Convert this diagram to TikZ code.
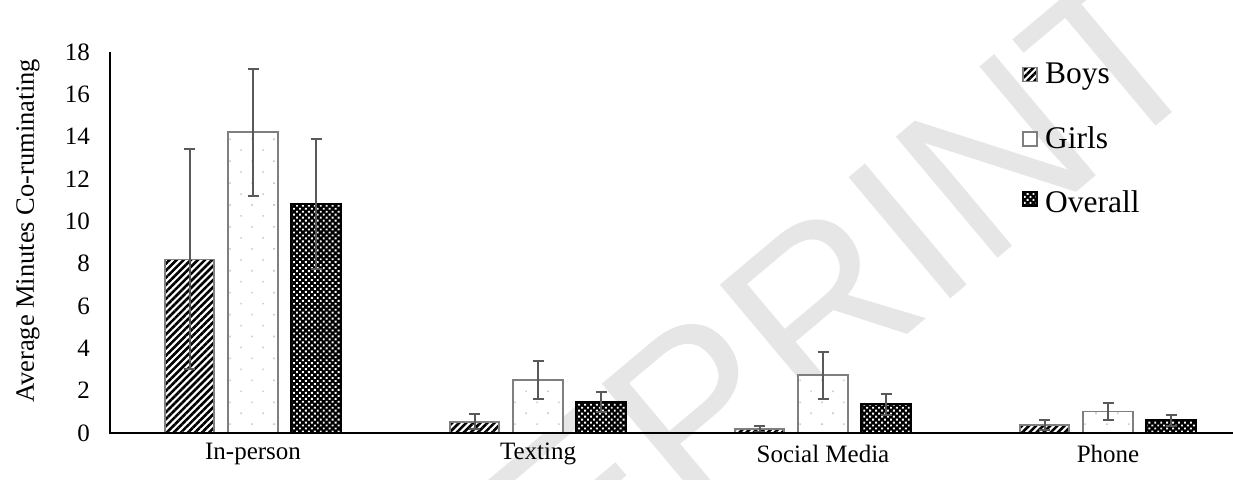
\documentclass[tikz,border=0pt]{standalone}
\usepackage{fontspec}
\setmainfont{Liberation Serif}
\newfontfamily\wmfont{Liberation Sans}
\usetikzlibrary{patterns,patterns.meta}
\definecolor{errgray}{HTML}{595959}
\definecolor{bordgray}{HTML}{7F7F7F}
\definecolor{wmgray}{HTML}{E6E6E6}
\definecolor{dotgray}{HTML}{CCCCCC}
\tikzset{
  boysfill/.style={preaction={fill=white}, pattern={Lines[angle=45,distance=5pt,line width=2.6pt]}, pattern color=black},
  girlsfill/.style={preaction={fill=white}, pattern={Dots[angle=45,distance=15.5pt,radius=1.1pt]}, pattern color=dotgray},
  overallfill/.style={preaction={fill=black}, pattern={Dots[angle=45,distance=4.2pt,radius=1.35pt]}, pattern color=white},
  boysbar/.style={boysfill, draw=bordgray, line width=1.8pt},
  girlsbar/.style={girlsfill, draw=bordgray, line width=1.8pt},
  overallbar/.style={overallfill, draw=black, line width=2pt},
  errbar/.style={draw=errgray, line width=2pt},
  axisline/.style={draw=black, line width=1.6pt},
  ticklab/.style={anchor=east, inner sep=0pt, font=\fontsize{25}{27}\selectfont},
  catlab/.style={inner sep=0pt, font=\fontsize{25}{27}\selectfont},
  leglab/.style={anchor=base west, inner sep=0pt, font=\fontsize{31.5}{34}\selectfont},
}
\begin{document}
\begin{tikzpicture}[x=1pt,y=1pt]
\useasboundingbox (0,0) rectangle (1233,479);
\clip (0,0) rectangle (1233,479);
% watermark
\node[rotate=40, text=wmgray, inner sep=0pt, font=\wmfont\fontsize{230}{230}\selectfont] (wm) at (722,92) {PREPRINT};
% data
\begin{scope}[shift={(0pt,46pt)}, y=21.17pt]
\foreach \c/\b/\bl/\bh/\g/\gl/\gh/\o/\ol/\oh [count=\i] in {
  253/8.2/3.0/13.4/14.2/11.2/17.2/10.8/7.75/13.9,
  538/0.53/0.17/0.88/2.52/1.6/3.42/1.47/0.98/1.93,
  823/0.2/0.05/0.34/2.73/1.62/3.82/1.37/0.87/1.84,
  1108/0.38/0.15/0.61/1.02/0.6/1.4/0.6/0.35/0.85}{
  \path[boysbar] (\c-88,0) rectangle (\c-39,\b);
  \path[girlsbar] (\c-25,0) rectangle (\c+25,\g);
  \path[overallbar] (\c+38,0) rectangle (\c+88,\o);
  \path[errbar] (\c-63.5,\bl) -- (\c-63.5,\bh) (\c-69,\bl) -- (\c-58,\bl) (\c-69,\bh) -- (\c-58,\bh);
  \path[errbar] (\c,\gl) -- (\c,\gh) (\c-5.5,\gl) -- (\c+5.5,\gl) (\c-5.5,\gh) -- (\c+5.5,\gh);
  \path[errbar] (\c+63,\ol) -- (\c+63,\oh) (\c+57.5,\ol) -- (\c+68.5,\ol) (\c+57.5,\oh) -- (\c+68.5,\oh);
}
% axes
\coordinate (orig) at (110,0);
\coordinate (ytop) at (110,18);
\coordinate (xend) at (1240,0);
\path[axisline] (ytop) -- (orig) -- (xend);
\foreach \v in {0,2,...,18}{
  \node[ticklab] (t\v) at (90,\v) {\v};
}
\end{scope}
\node[rotate=90, inner sep=0pt, font=\fontsize{26.5}{28}\selectfont] (ylab) at (28,248) {Average Minutes Co-ruminating};
\node[catlab] (c1) at (253,25) {In-person};
\node[catlab] (c2) at (538,25) {Texting};
\node[catlab] (c3) at (823,25) {Social Media};
\node[catlab] (c4) at (1108,25) {Phone};
% legend
\path[boysfill, draw=bordgray, line width=1.2pt] (1023,397.5) rectangle (1037,411.5);
\path[girlsfill, draw=bordgray, line width=1.2pt] (1023,333) rectangle (1037,347);
\path[overallfill, draw=black, line width=1.2pt] (1023,273) rectangle (1037,287);
\node[leglab] (l1) at (1045,395) {Boys};
\node[leglab] (l2) at (1045,330.5) {Girls};
\node[leglab] (l3) at (1045,266) {Overall};
\end{tikzpicture}
\end{document}
